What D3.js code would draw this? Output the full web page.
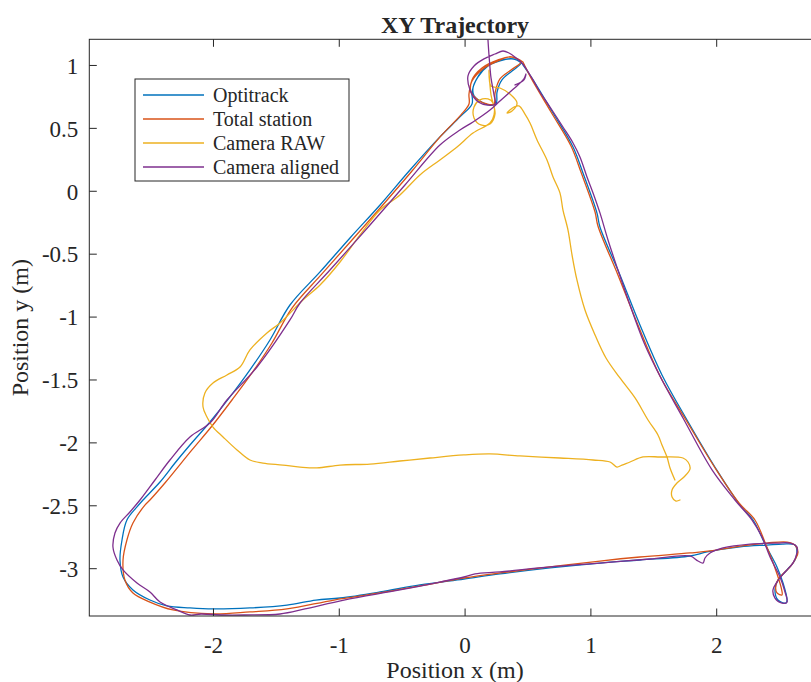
<!DOCTYPE html>
<html>
<head>
<meta charset="utf-8">
<script src="https://cdn.jsdelivr.net/npm/d3@7"></script>
<style>
  html, body { margin: 0; padding: 0; background: #fff; }
  svg { display: block; }
  text { font-family: "Liberation Serif", "Times New Roman", serif; fill: #262626; }
</style>
</head>
<body>
<svg id="chart" width="811" height="682"></svg>
<script>
// ---- data (metres) ----
const seriesNames = ["Optitrack", "Total station", "Camera RAW", "Camera aligned"];
const seriesColors = ["#0072BD", "#D95319", "#EDB120", "#7E2F8E"];

const xTicks = [-2, -1, 0, 1, 2];
const yTicks = [-3, -2.5, -2, -1.5, -1, -0.5, 0, 0.5, 1];
const xDomain = [-2.983, 2.833];
const yDomain = [-3.38, 1.204];

const optitrackX = [0.464,0.544,0.703,0.862,0.941,1.052,1.076,1.235,1.394,1.569,1.768,2.014,2.189,2.293,2.396,2.483,2.531,2.563,2.555,2.491,2.467,2.491,2.563,2.626,2.642,2.626,2.531,2.404,2.189,1.927,1.792,1.394,1.076,0.679,0.281,-0.005,-0.355,-0.672,-0.990,-1.181,-1.412,-1.706,-2.000,-2.183,-2.366,-2.501,-2.636,-2.715,-2.739,-2.723,-2.684,-2.604,-2.556,-2.421,-2.302,-2.183,-2.024,-1.865,-1.706,-1.547,-1.388,-1.149,-0.911,-0.672,-0.434,-0.196,-0.037,0.059,0.059,0.091,0.170,0.281,0.377,0.448,0.377,0.297,0.258,0.250,0.194,0.122,0.075,0.067,0.107,0.186,0.297,0.393,0.472];
const optitrackY = [1.000,0.881,0.618,0.348,0.141,-0.176,-0.288,-0.669,-1.067,-1.464,-1.822,-2.235,-2.498,-2.617,-2.824,-2.990,-3.118,-3.253,-3.277,-3.253,-3.173,-3.094,-3.014,-2.935,-2.871,-2.816,-2.808,-2.816,-2.831,-2.871,-2.903,-2.935,-2.959,-2.998,-3.046,-3.086,-3.133,-3.189,-3.237,-3.253,-3.293,-3.316,-3.324,-3.316,-3.300,-3.253,-3.173,-3.070,-2.935,-2.776,-2.617,-2.513,-2.458,-2.315,-2.164,-2.021,-1.838,-1.639,-1.424,-1.186,-0.908,-0.645,-0.375,-0.113,0.165,0.428,0.587,0.690,0.785,0.881,0.984,1.032,1.048,1.016,0.952,0.881,0.785,0.690,0.682,0.714,0.754,0.817,0.905,0.992,1.040,1.048,1.000];

const totalStationX = [0.464,0.528,0.687,0.846,0.925,1.037,1.060,1.219,1.378,1.553,1.760,2.006,2.181,2.308,2.396,2.467,2.515,2.523,2.483,2.475,2.507,2.587,2.634,2.650,2.626,2.563,2.404,2.189,1.951,1.792,1.394,1.076,0.679,0.281,-0.005,-0.355,-0.672,-1.038,-1.412,-1.706,-2.000,-2.318,-2.501,-2.636,-2.700,-2.715,-2.684,-2.636,-2.541,-2.501,-2.382,-2.167,-2.008,-1.849,-1.690,-1.531,-1.372,-1.134,-0.895,-0.657,-0.418,-0.188,-0.029,0.035,0.035,0.059,0.146,0.266,0.361,0.448,0.369,0.281,0.242,0.234,0.178,0.107,0.051,0.059,0.138,0.266,0.377,0.464];
const totalStationY = [1.024,0.897,0.626,0.356,0.149,-0.169,-0.280,-0.669,-1.067,-1.472,-1.822,-2.227,-2.482,-2.617,-2.816,-2.998,-3.149,-3.213,-3.197,-3.133,-3.070,-2.990,-2.919,-2.871,-2.816,-2.792,-2.800,-2.824,-2.863,-2.879,-2.911,-2.943,-2.990,-3.038,-3.078,-3.141,-3.197,-3.253,-3.324,-3.348,-3.364,-3.332,-3.269,-3.197,-3.094,-2.935,-2.776,-2.641,-2.498,-2.458,-2.323,-2.060,-1.870,-1.663,-1.448,-1.210,-0.932,-0.661,-0.391,-0.121,0.157,0.436,0.603,0.690,0.769,0.873,0.968,1.032,1.064,1.024,0.960,0.889,0.777,0.690,0.690,0.722,0.785,0.881,0.976,1.040,1.064,1.024];

const cameraRawX = [1.712,1.680,1.649,1.649,1.688,1.744,1.792,1.776,1.736,1.553,1.418,1.315,1.251,1.211,1.156,1.021,0.758,0.440,0.202,-0.005,-0.275,-0.514,-0.752,-0.990,-1.173,-1.308,-1.444,-1.603,-1.706,-1.809,-1.920,-2.000,-2.048,-2.079,-2.064,-2.000,-1.889,-1.785,-1.706,-1.571,-1.467,-1.285,-1.149,-0.990,-0.831,-0.672,-0.514,-0.355,-0.196,-0.060,0.067,0.202,0.234,0.226,0.186,0.122,0.075,0.075,0.130,0.202,0.242,0.210,0.194,0.210,0.281,0.361,0.417,0.377,0.337,0.393,0.432,0.480,0.520,0.576,0.655,0.703,0.758,0.782,0.822,0.854,0.893,0.957,1.037,1.124,1.235,1.355,1.458,1.537,1.569,1.609,1.633,1.672];
const cameraRawY = [-2.458,-2.466,-2.434,-2.378,-2.323,-2.275,-2.211,-2.156,-2.124,-2.116,-2.116,-2.156,-2.180,-2.196,-2.156,-2.140,-2.124,-2.108,-2.092,-2.100,-2.124,-2.148,-2.172,-2.180,-2.203,-2.196,-2.180,-2.164,-2.140,-2.060,-1.957,-1.878,-1.798,-1.719,-1.607,-1.528,-1.464,-1.401,-1.265,-1.130,-1.051,-0.868,-0.749,-0.566,-0.351,-0.153,-0.033,0.126,0.245,0.348,0.459,0.539,0.603,0.698,0.730,0.722,0.666,0.579,0.523,0.531,0.610,0.762,0.960,0.833,0.817,0.769,0.698,0.634,0.618,0.666,0.674,0.610,0.539,0.404,0.245,0.110,-0.017,-0.153,-0.312,-0.510,-0.709,-0.948,-1.146,-1.329,-1.488,-1.647,-1.822,-1.941,-2.021,-2.116,-2.203,-2.299];

const cameraAlignedX = [0.186,0.194,0.210,0.234,0.242,0.170,0.091,0.043,0.027,0.075,0.154,0.242,0.305,0.353,0.409,0.456,0.496,0.544,0.599,0.679,0.782,0.862,0.917,0.973,1.021,1.076,1.140,1.219,1.315,1.434,1.569,1.736,1.967,2.149,2.285,2.364,2.428,2.507,2.547,2.563,2.523,2.467,2.451,2.483,2.547,2.610,2.642,2.642,2.587,2.483,2.269,2.054,1.951,1.911,1.895,1.855,1.792,1.474,1.076,0.679,0.281,0.083,-0.005,-0.196,-0.514,-0.959,-1.269,-1.467,-1.754,-1.920,-2.095,-2.183,-2.286,-2.421,-2.501,-2.604,-2.715,-2.763,-2.795,-2.779,-2.739,-2.660,-2.580,-2.461,-2.342,-2.183,-2.024,-1.889,-1.650,-1.388,-1.308,-1.070,-0.752,-0.474,-0.196,-0.037,0.067,0.202,0.281,0.361,0.424,0.472,0.488,0.472,0.401];
const cameraAlignedY = [1.199,1.080,0.897,0.762,0.690,0.682,0.722,0.801,0.913,0.992,1.048,1.087,1.111,1.095,1.056,1.016,0.960,0.881,0.785,0.666,0.507,0.380,0.269,0.110,-0.017,-0.176,-0.391,-0.630,-0.908,-1.226,-1.504,-1.806,-2.219,-2.458,-2.617,-2.752,-2.911,-3.070,-3.189,-3.269,-3.277,-3.237,-3.173,-3.110,-3.030,-2.959,-2.879,-2.831,-2.800,-2.800,-2.808,-2.839,-2.879,-2.919,-2.959,-2.943,-2.903,-2.927,-2.959,-2.990,-3.030,-3.046,-3.070,-3.110,-3.173,-3.253,-3.324,-3.364,-3.372,-3.372,-3.364,-3.372,-3.332,-3.269,-3.189,-3.118,-3.014,-2.935,-2.831,-2.720,-2.641,-2.553,-2.458,-2.299,-2.140,-1.957,-1.846,-1.663,-1.401,-1.027,-0.892,-0.630,-0.272,0.046,0.364,0.483,0.547,0.642,0.714,0.785,0.841,0.889,0.928,0.881,0.841];

const titleText = "XY Trajectory";
const xLabelText = "Position x (m)";
const yLabelText = "Position y (m)";

// ---- drawing ----
const svg = d3.select("#chart");
const W = 811, H = 682;
const plot = { left: 89.3, right: 821, top: 39.3, bottom: 616 };
const axisColor = "#262626";
const fmt = d => d3.format("~g")(d).replace("\u2212", "-");

svg.append("rect").attr("width", W).attr("height", H).attr("fill", "#fff");

const x = d3.scaleLinear().domain(xDomain).range([plot.left, plot.right]);
const y = d3.scaleLinear().domain(yDomain).range([plot.bottom, plot.top]);

svg.append("defs").append("clipPath").attr("id", "clip")
  .append("rect")
  .attr("x", plot.left).attr("y", plot.top)
  .attr("width", plot.right - plot.left).attr("height", plot.bottom - plot.top);

const series = [
  { xs: optitrackX, ys: optitrackY },
  { xs: totalStationX, ys: totalStationY },
  { xs: cameraRawX, ys: cameraRawY },
  { xs: cameraAlignedX, ys: cameraAlignedY }
];

const line = d3.line().x(d => x(d[0])).y(d => y(d[1])).curve(d3.curveCatmullRom.alpha(0.5));
const gLines = svg.append("g").attr("clip-path", "url(#clip)");
series.forEach((s, i) => {
  const pts = s.xs.map((v, k) => [v, s.ys[k]]);
  gLines.append("path")
    .datum(pts)
    .attr("d", line)
    .attr("fill", "none")
    .attr("stroke", seriesColors[i])
    .attr("stroke-width", 1.3)
    .attr("stroke-linejoin", "round")
    .attr("stroke-linecap", "round");
});

// axes (MATLAB style: inward ticks, box)
const tickLen = 7.5;
const fontTick = 23;

const gxb = svg.append("g").attr("transform", `translate(0,${plot.bottom})`)
  .call(d3.axisBottom(x).tickValues(xTicks).tickSize(-tickLen).tickFormat(fmt));
const gxt = svg.append("g").attr("transform", `translate(0,${plot.top})`)
  .call(d3.axisTop(x).tickValues(xTicks).tickSize(-tickLen).tickFormat(""));
const gyl = svg.append("g").attr("transform", `translate(${plot.left},0)`)
  .call(d3.axisLeft(y).tickValues(yTicks).tickSize(-tickLen).tickPadding(11).tickFormat(fmt));
const gyr = svg.append("g").attr("transform", `translate(${plot.right},0)`)
  .call(d3.axisRight(y).tickValues(yTicks).tickSize(-tickLen).tickFormat(""));

[gxb, gxt, gyl, gyr].forEach(g => {
  g.select(".domain").remove();
  g.selectAll(".tick line").attr("stroke", axisColor).attr("stroke-width", 1);
  g.selectAll("text")
    .attr("font-family", '"Liberation Serif", "Times New Roman", serif')
    .attr("font-size", fontTick)
    .attr("fill", axisColor);
});
svg.append("rect").attr("x", plot.left).attr("y", plot.top)
  .attr("width", plot.right - plot.left).attr("height", plot.bottom - plot.top)
  .attr("fill", "none").attr("stroke", axisColor).attr("stroke-width", 1);

gxb.selectAll(".tick text").attr("dy", null).attr("y", 37);
gyl.selectAll(".tick text").attr("dy", "0.36em");

// titles
svg.append("text").attr("x", 455).attr("y", 33)
  .attr("text-anchor", "middle").attr("font-size", 24).attr("font-weight", "bold")
  .attr("fill", "#000").text(titleText);
svg.append("text").attr("x", 455).attr("y", 678)
  .attr("text-anchor", "middle").attr("font-size", 24).text(xLabelText);
svg.append("text").attr("transform", `translate(28,${(plot.top + plot.bottom) / 2}) rotate(-90)`)
  .attr("text-anchor", "middle").attr("font-size", 24).text(yLabelText);

// legend
const lg = { x: 135, y: 79, w: 214, h: 102 };
const gl = svg.append("g");
gl.append("rect").attr("x", lg.x).attr("y", lg.y).attr("width", lg.w).attr("height", lg.h)
  .attr("fill", "#fff").attr("stroke", axisColor).attr("stroke-width", 1);
seriesNames.forEach((name, i) => {
  const cy = lg.y + 16 + i * 24;
  gl.append("line").attr("x1", lg.x + 8).attr("x2", lg.x + 69).attr("y1", cy).attr("y2", cy)
    .attr("stroke", seriesColors[i]).attr("stroke-width", 1.3);
  gl.append("text").attr("x", lg.x + 78).attr("y", cy).attr("dy", "0.35em")
    .attr("font-size", 20).text(name);
});
</script>
</body>
</html>
